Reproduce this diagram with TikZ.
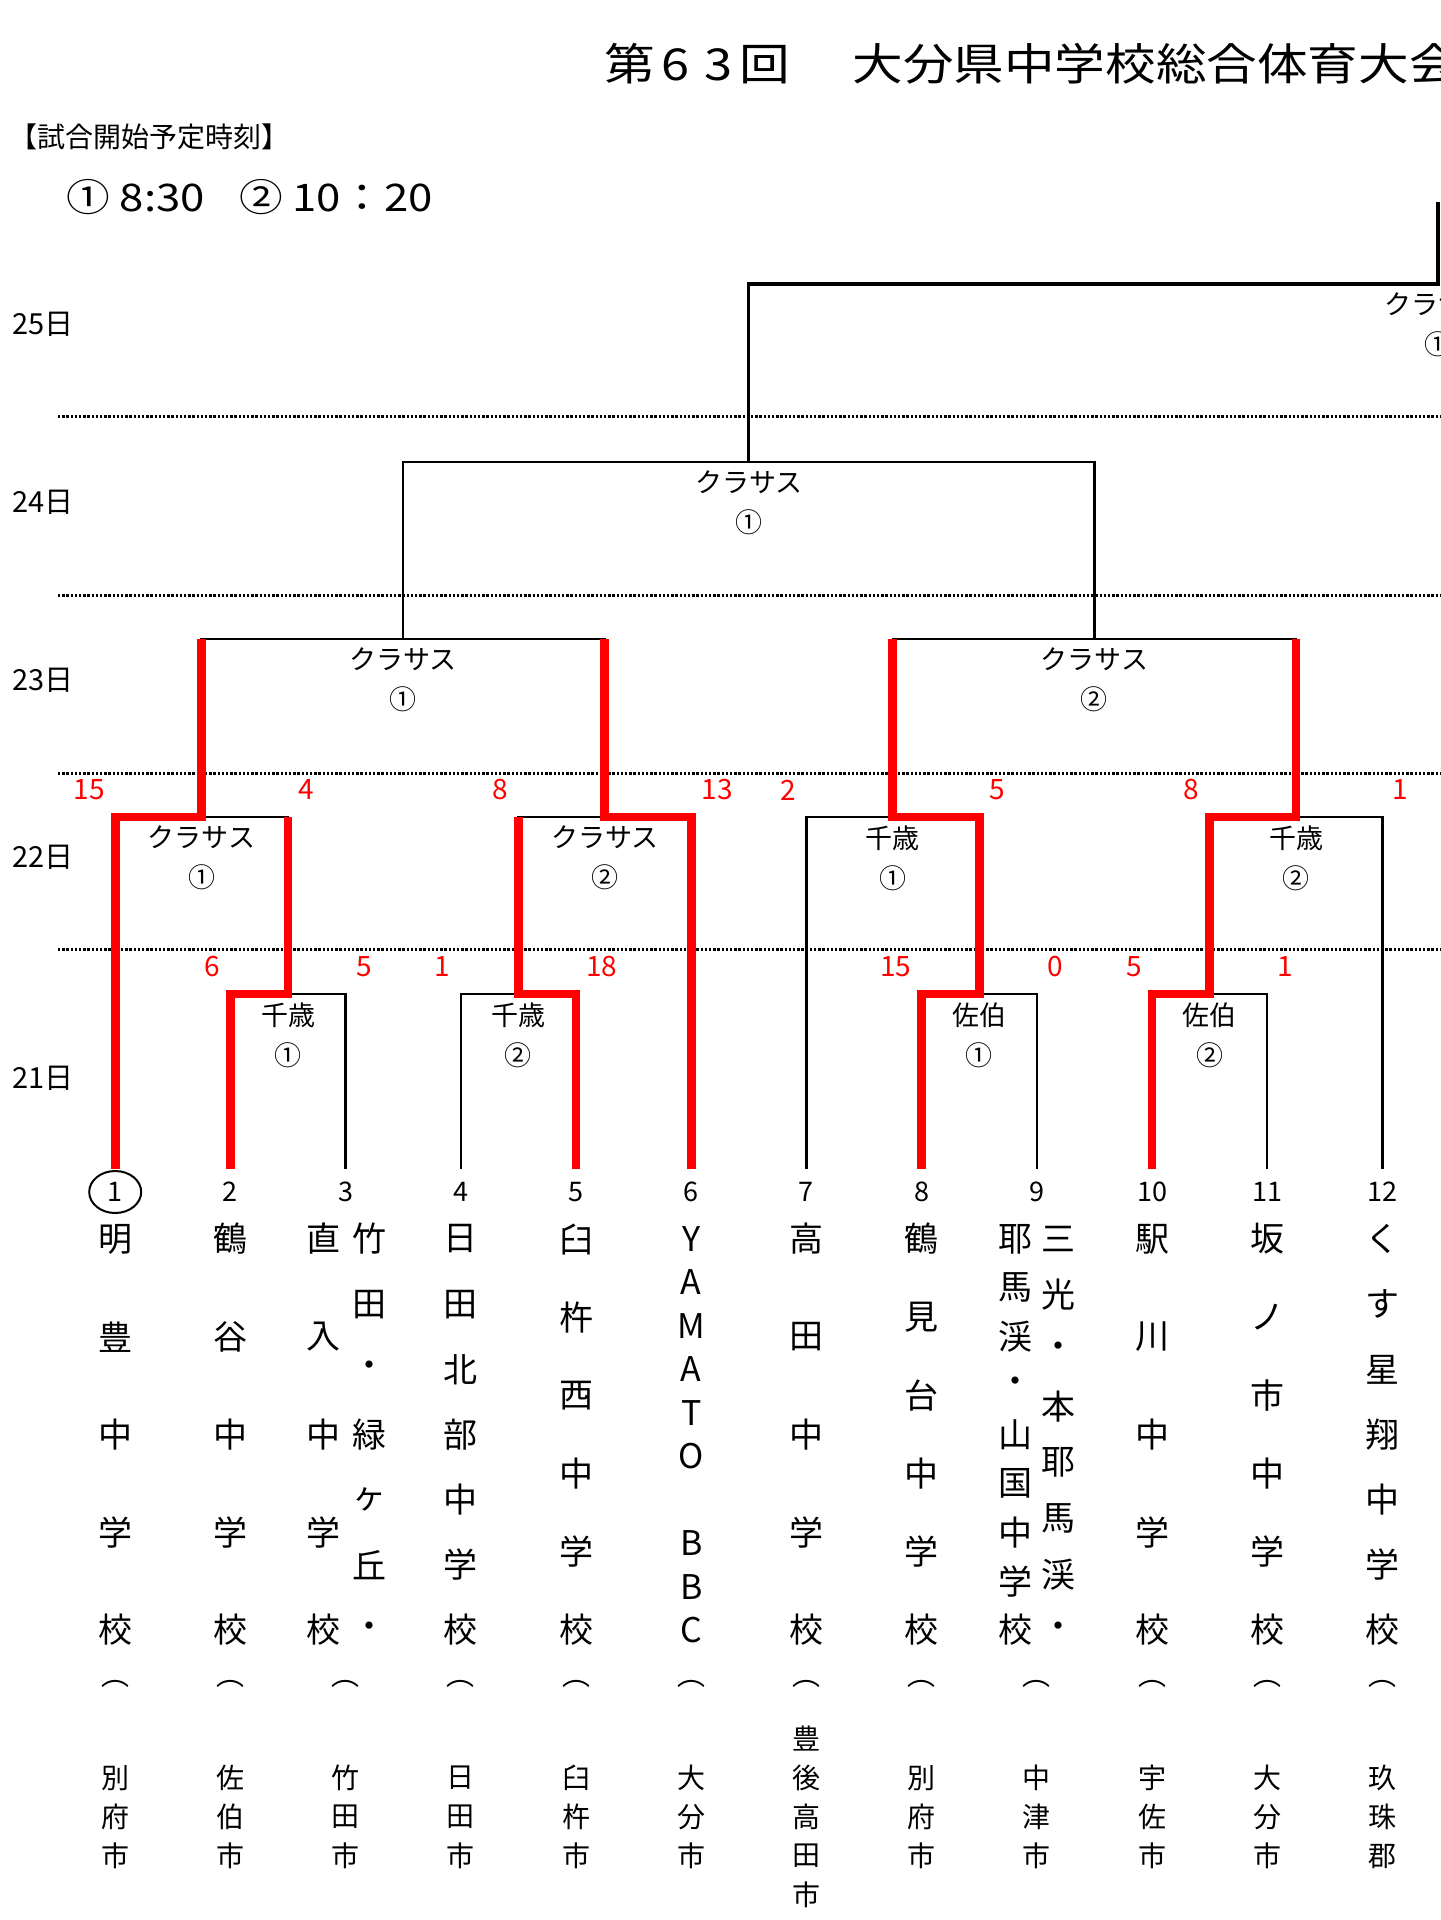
\documentclass[tikz,border=0pt]{standalone}
\usepackage{fontspec}
\usepackage{graphicx}
\setmainfont{Noto Sans CJK JP}
\usetikzlibrary{calc}

\tikzset{
  bracket/.style={line width=1.2pt},
  win/.style={line width=4.4pt, draw=red},
  dayline/.style={line width=1.5pt, dash pattern=on 1.2pt off 0.9pt},
  venue/.style={align=center, inner sep=0pt, font=\fontsize{13.5}{20}\selectfont},
  score/.style={text=red, inner sep=0pt, font=\fontsize{14}{14}\selectfont},
  num/.style={inner sep=0pt, font=\fontsize{13.5}{13.5}\selectfont},
  namechar/.style={inner sep=0pt, font=\fontsize{17}{17}\selectfont},
  citychar/.style={inner sep=0pt, font=\fontsize{14}{14}\selectfont},
  daylabel/.style={anchor=west, inner sep=0pt, font=\fontsize{14.5}{14.5}\selectfont},
}

% team name set top to bottom, spread over one height
\newcommand\tatename[4]{%
  \foreach \glyph [count=\cnt] in {#4} {
    \node[namechar] (#1-\cnt) at (#2,{1239+(\cnt-1)*391/(#3-1)}) {\glyph};
  }%
}
% town, centred round one height
\newcommand\cityname[4]{%
  \foreach \glyph [count=\cnt] in {#4} {
    \node[citychar] (#1-\cnt) at (#2,{1817+(\cnt-(#3+1)/2)*39}) {\glyph};
  }%
}

\begin{document}
\begin{tikzpicture}[x=0.5pt,y=-0.5pt]
  \useasboundingbox (0,0) rectangle (1440,1920);
  \fill[white] (0,0) rectangle (1440,1920);

  % heading
  \node[anchor=west, inner sep=0pt] (title) at (604,64) {\scalebox{1.15}[1]{\fontsize{22}{22}\selectfont 第\makebox[18.3pt]{6}\makebox[18.3pt]{3}回}};
  \node[anchor=west, inner sep=0pt] (title2) at (852,64) {\scalebox{1.15}[1]{\fontsize{22}{22}\selectfont 大分県中学校総合体育大会}};
  \node[anchor=west, inner sep=0pt, font=\fontsize{14}{14}\selectfont] (times) at (9,137) {【試合開始予定時刻】};
  \node[anchor=west, inner sep=0pt] (slots) at (66,197) {\scalebox{1.15}[1]{\fontsize{19}{19}\selectfont ① 8:30\hspace{15pt}②\hspace{4pt}10：20}};

  % days
  \foreach \y in {416,595,773,949}
    \draw[dayline] (58,\y) -- (1440,\y);
  \foreach \d/\y in {25/324,24/502,23/680,22/857,21/1078}
    \node[daylabel] (day\d) at (12,\y) {\d{}日};

  % feet of the teams and the matches
  \foreach \i in {1,...,12}
    \coordinate (b\i) at (115.2*\i,1169);
  \coordinate (r1a) at (288,994);
  \coordinate (r1b) at (518.4,994);
  \coordinate (r1c) at (979.2,994);
  \coordinate (r1d) at (1209.6,994);
  \coordinate (r2a) at (201.6,817);
  \coordinate (r2b) at (604.8,817);
  \coordinate (r2c) at (892.8,817);
  \coordinate (r2d) at (1296,817);
  \coordinate (r3a) at (403.2,639);
  \coordinate (r3b) at (1094.4,639);
  \coordinate (r4) at (748.8,462);
  \coordinate (r5) at (1438,284);
  \coordinate (r6) at (1438,202);

  \foreach \m/\a/\b in {r1a/b2/b3, r1b/b4/b5, r1c/b8/b9, r1d/b10/b11, r2a/b1/r1a, r2b/r1b/b6, r2c/b7/r1c, r2d/r1d/b12, r3a/r2a/r2b, r3b/r2c/r2d, r4/r3a/r3b}
    \draw[bracket] (\a) |- (\m) -| (\b);
  \draw[bracket, line width=1.6pt] (r4) |- (r5) -- (r6);

  % winners so far
  \foreach \t/\m/\u in {b1/r2a/r3a, b2/r1a/r2a, b5/r1b/r2b, b6/r2b/r3a}
    \draw[win] (\t) |- (\m) -- (\m |- \u);
  \draw[win] (b8) |- (r1c) |- (r2c) -- (r2c |- r3b);
  \draw[win] (b10) |- (r1d) |- (r2d) -- (r2d |- r3b);

  % scores
  \foreach \s/\a/\m/\v in {s1/b1/r2a/15, s2/b2/r1a/6, s3/b4/r1b/1, s4/r1b/r2b/8, s5/b7/r2c/2, s6/b8/r1c/15, s7/r1d/r2d/8, s8/b10/r1d/5}
    \node[score, anchor=east] (\s) at ($(\a |- \m)+(-10,-27)$) {\v};
  \foreach \s/\a/\m/\v in {s9/r1a/r2a/4, s10/b3/r1a/5, s11/b5/r1b/18, s12/b6/r2b/13, s13/r1c/r2c/5, s14/b9/r1c/0, s15/b12/r2d/1, s16/b11/r1d/1}
    \node[score, anchor=west] (\s) at ($(\a |- \m)+(10,-27)$) {\v};

  % grounds
  \foreach \m/\g/\c in {r1a/千歳/①, r1b/千歳/②, r1c/佐伯/①, r1d/佐伯/②, r2a/クラサス/①, r2b/クラサス/②, r2c/千歳/①, r2d/千歳/②, r3a/クラサス/①, r3b/クラサス/②, r4/クラサス/①, r5/クラサス/①}
    \node[venue] (v\m) at ($(\m)+(0,41)$) {\g\\\c};

  % teams
  \foreach \i in {1,...,12}
    \node[num] (n\i) at (115.2*\i,1192) {\i};
  \draw[line width=1pt] (n1) ellipse[x radius=26, y radius=21];

  \tatename{t1}{115.2}{5}{明,豊,中,学,校}
  \tatename{t2}{230.4}{5}{鶴,谷,中,学,校}
  \tatename{t3r}{369.6}{7}{竹,田,・,緑,ヶ,丘,・}
  \tatename{t3l}{323}{5}{直,入,中,学,校}
  \tatename{t4}{460.8}{7}{日,田,北,部,中,学,校}
  \tatename{t5}{576}{6}{臼,杵,西,中,学,校}
  \tatename{t6}{691.2}{10}{Y,A,M,A,T,O,{},B,B,C}
  \tatename{t7}{806.4}{5}{高,田,中,学,校}
  \tatename{t8}{921.6}{6}{鶴,見,台,中,学,校}
  \tatename{t9r}{1058.5}{8}{三,光,・,本,耶,馬,渓,・}
  \tatename{t9l}{1015}{9}{耶,馬,渓,・,山,国,中,学,校}
  \tatename{t10}{1152}{5}{駅,川,中,学,校}
  \tatename{t11}{1267.2}{6}{坂,ノ,市,中,学,校}
  \tatename{t12}{1382.4}{7}{く,す,星,翔,中,学,校}

  \foreach \i in {1,...,12}
    \node[citychar] (p\i) at (115.2*\i,1684) {︵};

  \cityname{c1}{115.2}{3}{別,府,市}
  \cityname{c2}{230.4}{3}{佐,伯,市}
  \cityname{c3}{345.6}{3}{竹,田,市}
  \cityname{c4}{460.8}{3}{日,田,市}
  \cityname{c5}{576}{3}{臼,杵,市}
  \cityname{c6}{691.2}{3}{大,分,市}
  \cityname{c7}{806.4}{5}{豊,後,高,田,市}
  \cityname{c8}{921.6}{3}{別,府,市}
  \cityname{c9}{1036.8}{3}{中,津,市}
  \cityname{c10}{1152}{3}{宇,佐,市}
  \cityname{c11}{1267.2}{3}{大,分,市}
  \cityname{c12}{1382.4}{3}{玖,珠,郡}
\end{tikzpicture}
\end{document}
